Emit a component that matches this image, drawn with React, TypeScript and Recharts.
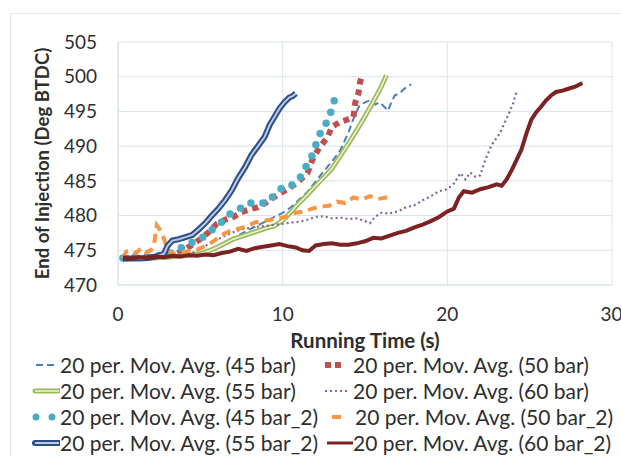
import { LineChart, Line, XAxis, YAxis, CartesianGrid } from "recharts";

const FONT = "Lato, 'Open Sans', sans-serif";
const INK = "#2e2e2e";
const GRID = "#d9e2f0";

const xTicks = [0, 10, 20, 30];
const yTicks = [470, 475, 480, 485, 490, 495, 500, 505];

const seriesNames = [
  "20 per. Mov. Avg. (45 bar)",
  "20 per. Mov. Avg. (50 bar)",
  "20 per. Mov. Avg. (55 bar)",
  "20 per. Mov. Avg. (60 bar)",
  "20 per. Mov. Avg. (45 bar_2)",
  "20 per. Mov. Avg. (50 bar_2)",
  "20 per. Mov. Avg. (55 bar_2)",
  "20 per. Mov. Avg. (60 bar_2)",
];

// 45 bar
const t45 = [0.3, 1, 2, 3, 4, 5, 5.5, 6, 6.5, 7, 7.5, 8, 8.5, 9, 9.5, 10, 10.5, 11, 11.5, 12, 12.5, 13, 13.5, 14, 14.4, 14.7, 15.0, 15.3, 15.6, 15.9, 16.2, 16.4, 16.6, 16.8, 17.1, 17.4, 17.8];
const v45 = [473.8, 473.8, 473.9, 474, 474.2, 474.5, 475.0, 475.5, 476.2, 476.8, 477.4, 478.0, 478.6, 479.2, 479.8, 480.4, 481.2, 482.3, 483.4, 484.9, 486.4, 487.8, 489.4, 492.0, 494.6, 496.0, 496.3, 496.6, 496.0, 496.3, 495.6, 495.1, 496.3, 497.3, 497.6, 498.3, 498.9];

// 50 bar
const t50 = [0.3, 1, 2, 3, 3.5, 4, 4.5, 5, 5.5, 6, 6.5, 7, 7.5, 8, 8.5, 9, 9.5, 10, 10.5, 11, 11.5, 11.8, 12.2, 12.7, 13.0, 13.5, 13.9, 14.3, 14.4, 14.6, 14.7, 14.8];
const v50 = [473.8, 473.9, 474, 474.2, 474.5, 475, 475.8, 476.6, 477.6, 478.8, 479.4, 479.8, 480.5, 480.9, 481.2, 481.9, 482.7, 483.4, 484.1, 485, 486.1, 488, 489.7, 491.2, 492.8, 493.5, 493.8, 494.2, 496.2, 497.6, 499.2, 500];

// 55 bar
const t55 = [0.3, 1, 2, 3, 4, 5, 5.5, 6, 6.5, 7, 7.5, 8, 8.5, 9, 9.5, 10, 10.5, 11, 11.5, 12, 12.5, 13, 13.5, 14, 14.5, 15, 15.5, 16, 16.3];
const v55 = [473.8, 473.8, 473.9, 474, 474.2, 474.5, 474.9, 475.4, 476.0, 476.6, 477.0, 477.4, 477.8, 478.2, 478.5, 479.3, 480.5, 481.8, 483.0, 484.3, 485.5, 486.8, 488.6, 490.4, 492.3, 494.3, 496.4, 498.6, 500.2];

// 60 bar
const t60 = [0.3, 1, 2, 3, 4, 4.5, 5, 5.5, 6, 6.5, 7, 7.5, 8, 8.5, 9, 9.5, 10, 10.5, 11, 11.5, 12, 12.5, 13, 13.5, 14, 14.5, 15, 15.3, 15.6, 16, 16.5, 17, 17.5, 18, 18.5, 19, 19.5, 20, 20.4, 20.8, 21.1, 21.4, 21.7, 22, 22.3, 22.7, 23.2, 23.7, 24.0, 24.2];
const v60 = [473.8, 473.9, 474, 474.1, 474.3, 474.6, 475.2, 475.9, 476.5, 477.1, 477.6, 478.0, 478.2, 478.4, 478.5, 478.7, 478.8, 479.0, 479.1, 479.4, 479.8, 479.9, 479.6, 479.7, 479.5, 479.6, 479.2, 478.9, 479.8, 480.4, 480.3, 480.6, 481.2, 481.5, 482.2, 482.8, 483.5, 483.8, 484.6, 486.1, 485.2, 486.2, 485.6, 485.8, 488.0, 490.2, 491.9, 494.5, 496.2, 497.8];

// 45 bar_2
const t45b = [0.3, 1, 2, 3, 3.8, 4.2, 5.1, 5.5, 6.1, 6.7, 7.3, 7.9, 8.5, 9.0, 9.6, 10.1, 10.6, 11.0, 11.4, 11.8, 12.1, 12.4, 12.8, 13.0, 13.3];
const v45b = [473.9, 474, 474.1, 474.4, 475.3, 475.8, 476.8, 477.6, 478.6, 480.1, 480.8, 481.8, 481.8, 481.8, 483.2, 484.3, 484.4, 485.2, 487, 488.7, 490.8, 492.6, 493.8, 495.6, 497.8];

// 50 bar_2
const t50b = [0.3, 0.5, 0.8, 1.1, 1.4, 1.7, 2.0, 2.2, 2.35, 2.6, 2.8, 3.0, 3.3, 3.8, 4.3, 4.8, 5.3, 5.8, 6.3, 6.8, 7.3, 7.8, 8.3, 8.8, 9.3, 9.8, 10.3, 10.8, 11.3, 11.8, 12.3, 12.8, 13.3, 13.8, 14.3, 14.8, 15.3, 15.8, 16.3, 16.7];
const v50b = [473.9, 474.8, 475.0, 474.6, 475.3, 474.7, 475.0, 476.0, 478.6, 477.8, 476.6, 475.2, 474.5, 474.6, 474.9, 475.1, 475.6, 476.3, 477.2, 477.8, 478.1, 478.4, 479.0, 479.2, 479.4, 479.6, 479.9, 480.4, 480.6, 481.0, 481.3, 481.4, 482.0, 481.8, 482.6, 482.3, 482.8, 482.4, 482.6, 482.6];

// 55 bar_2
const t55b = [0.3, 0.8, 1.3, 1.8, 2.3, 2.8, 3.0, 3.3, 3.7, 4.1, 4.5, 4.9, 5.3, 5.7, 6.1, 6.5, 6.9, 7.3, 7.7, 8.1, 8.5, 8.9, 9.2, 9.5, 9.8, 10.1, 10.4, 10.6, 10.8];
const v55b = [473.8, 473.8, 473.8, 473.9, 474.1, 474.5, 475.6, 476.4, 476.6, 476.9, 477.2, 478.0, 478.9, 480.0, 481.0, 482.2, 483.6, 485.4, 486.9, 488.7, 490.0, 491.3, 493.0, 494.2, 495.4, 496.3, 497.0, 497.2, 497.6];

// 60 bar_2
const t60b = [0.3, 0.8, 1.3, 1.8, 2.3, 2.8, 3.3, 3.8, 4.3, 4.8, 5.3, 5.8, 6.3, 6.8, 7.3, 7.8, 8.3, 8.8, 9.3, 9.8, 10.3, 10.8, 11.2, 11.6, 12.0, 12.5, 13.0, 13.5, 14.0, 14.5, 15.0, 15.5, 16.0, 16.5, 17.0, 17.5, 18.0, 18.5, 19.0, 19.5, 20.0, 20.4, 20.7, 21.0, 21.5, 22.0, 22.5, 23.0, 23.3, 23.6, 23.9, 24.2, 24.5, 24.8, 25.1, 25.4, 25.7, 26.0, 26.3, 26.6, 27.0, 27.4, 27.8, 28.2];
const v60b = [473.9, 473.8, 474.0, 473.9, 474.1, 474.0, 474.2, 474.1, 474.3, 474.2, 474.4, 474.3, 474.6, 474.8, 475.2, 474.9, 475.3, 475.5, 475.7, 475.9, 475.6, 475.4, 475.0, 474.9, 475.7, 475.9, 476.0, 475.8, 475.8, 476.0, 476.3, 476.8, 476.7, 477.1, 477.5, 477.8, 478.3, 478.7, 479.2, 479.8, 480.6, 481.0, 482.6, 483.5, 483.3, 483.8, 484.1, 484.5, 484.3, 485.2, 486.5, 488.0, 489.5, 491.8, 493.8, 494.9, 495.7, 496.6, 497.3, 497.8, 498.0, 498.3, 498.6, 499.1];

const zip = (ts: number[], vs: number[]) => ts.map((t, i) => ({ t, v: vs[i] }));

const d45 = zip(t45, v45);
const d50 = zip(t50, v50);
const d55 = zip(t55, v55);
const d60 = zip(t60, v60);
const d45b = zip(t45b, v45b);
const d50b = zip(t50b, v50b);
const d55b = zip(t55b, v55b);
const d60b = zip(t60b, v60b);

// swatch drawn in a 30px wide box that sits right before the text
function Swatch({ i }: { i: number }) {
  const y = 11;
  switch (i) {
    case 0:
      return <line x1={6} y1={y} x2={28} y2={y} stroke="#4a7ebb" strokeWidth={2} strokeDasharray="7 4" />;
    case 1:
      return <line x1={2} y1={y} x2={22} y2={y} stroke="#c0504d" strokeWidth={6} strokeDasharray="6 4" />;
    case 2:
      return (
        <g>
          <line x1={5} y1={y} x2={29} y2={y} stroke="#9bbb59" strokeWidth={5} strokeLinecap="round" />
          <line x1={5} y1={y} x2={29} y2={y} stroke="#eef5e0" strokeWidth={1.5} />
        </g>
      );
    case 3:
      return <line x1={2} y1={y} x2={24} y2={y} stroke="#8064a2" strokeWidth={2} strokeDasharray="2 3" />;
    case 4:
      return (
        <g fill="#4bacc6">
          <circle cx={6} cy={y} r={3.5} />
          <circle cx={22} cy={y} r={3.5} />
        </g>
      );
    case 5:
      return <line x1={9} y1={y} x2={18} y2={y} stroke="#f79646" strokeWidth={4} />;
    case 6:
      return (
        <g>
          <line x1={5} y1={y} x2={29} y2={y} stroke="#2c4d85" strokeWidth={6} strokeLinecap="round" />
          <line x1={5} y1={y} x2={29} y2={y} stroke="#b9c9e6" strokeWidth={2} />
        </g>
      );
    default:
      return <line x1={4} y1={y} x2={30} y2={y} stroke="#7b2323" strokeWidth={3} />;
  }
}

const legendTextX = [60, 353];
const legendRowY = [365, 391, 417, 443];

function ChartLegend() {
  return (
    <div style={{ position: "absolute", left: 0, top: 0, fontFamily: FONT, fontSize: 21, color: INK }}>
      {seriesNames.map((name, i) => {
        const x = legendTextX[i % 2];
        const y = legendRowY[Math.floor(i / 2)];
        return (
          <div key={name} style={{ position: "absolute", left: x - 30, top: y - 11, height: 22, display: "flex", alignItems: "center", whiteSpace: "nowrap" }}>
            <svg width={30} height={22} style={{ flex: "none" }}>
              <Swatch i={i} />
            </svg>
            <span style={{ lineHeight: "22px", marginLeft: i === 5 ? 2 : 0 }}>{name}</span>
          </div>
        );
      })}
    </div>
  );
}

export default function App() {
  const tick = { fontSize: 19, fill: INK, fontFamily: FONT };
  return (
    <div style={{ position: "absolute", left: 0, top: 0, width: 621, height: 456, background: "#fff", overflow: "hidden" }}>
      <div style={{ position: "absolute", left: 10, top: 13, width: 640, height: 460, borderLeft: "1px solid #e6e6e6", borderTop: "1px solid #e6e6e6" }} />
      <LineChart width={621} height={456} margin={{ top: 42, right: 9, left: 20, bottom: 141 }}>
        <CartesianGrid stroke={GRID} />
        <XAxis
          type="number"
          dataKey="t"
          domain={[0, 30]}
          ticks={xTicks}
          height={30}
          tick={tick}
          tickLine={false}
          tickMargin={17}
          axisLine={{ stroke: GRID }}
          allowDataOverflow
          label={{
            content: () => (
              <text x={365} y={348} textAnchor="middle" fontFamily={FONT} fontSize={20.5} fontWeight={700} fill={INK}>
                Running Time (s)
              </text>
            ),
          }}
        />
        <YAxis
          type="number"
          domain={[470, 505]}
          ticks={yTicks}
          width={98}
          tick={tick}
          tickLine={false}
          tickMargin={15}
          axisLine={{ stroke: GRID }}
          allowDataOverflow
          label={{
            value: "End of Injection (Deg BTDC)",
            angle: -90,
            position: "insideLeft",
            offset: 22,
            style: { textAnchor: "middle", fontFamily: FONT, fontSize: 18.5, fontWeight: 700, fill: INK },
          }}
        />
        <Line data={d45} dataKey="v" stroke="#4a7ebb" strokeWidth={2} strokeDasharray="7 4" dot={false} activeDot={false} isAnimationActive={false} />
        <Line data={d50} dataKey="v" stroke="#c0504d" strokeWidth={6} strokeDasharray="6 5" dot={false} activeDot={false} isAnimationActive={false} />
        <Line data={d55} dataKey="v" stroke="#9bbb59" strokeWidth={5} dot={false} activeDot={false} isAnimationActive={false} />
        <Line data={d55} dataKey="v" stroke="#eef5e0" strokeWidth={1.5} dot={false} activeDot={false} isAnimationActive={false} />
        <Line data={d60} dataKey="v" stroke="#8064a2" strokeWidth={2.2} strokeDasharray="2 3" dot={false} activeDot={false} isAnimationActive={false} />
        <Line data={d45b} dataKey="v" stroke="#4bacc6" strokeWidth={7.5} strokeDasharray="0 12" strokeLinecap="round" dot={false} activeDot={false} isAnimationActive={false} />
        <Line data={d50b} dataKey="v" stroke="#f79646" strokeWidth={4} strokeDasharray="9 6" dot={false} activeDot={false} isAnimationActive={false} />
        <Line data={d55b} dataKey="v" stroke="#2c4d85" strokeWidth={6} dot={false} activeDot={false} isAnimationActive={false} />
        <Line data={d55b} dataKey="v" stroke="#b9c9e6" strokeWidth={2} dot={false} activeDot={false} isAnimationActive={false} />
        <Line data={d60b} dataKey="v" stroke="#7b2323" strokeWidth={4} dot={false} activeDot={false} isAnimationActive={false} />
      </LineChart>
      <ChartLegend />
    </div>
  );
}
